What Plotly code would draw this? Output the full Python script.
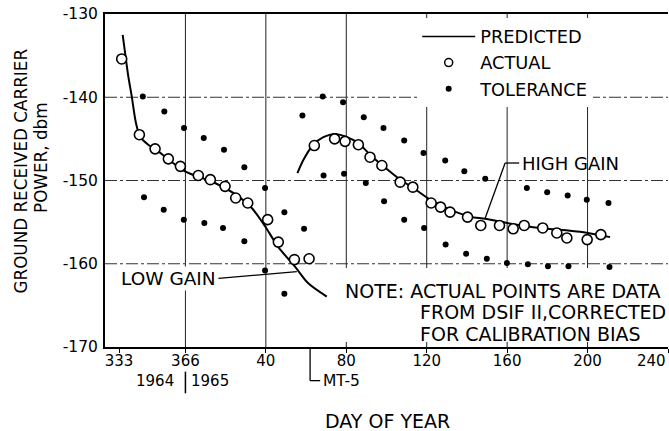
import plotly.graph_objects as go

# ---------------- data (x = day count, 1965 days offset by 366) ----------------
low_actual_x = [334.3, 343.1, 350.9, 357.5, 363.5, 372.4, 378.4, 385.7, 391.0, 397.0, 406.9, 412.2, 420.2, 427.5]
low_actual_y = [-135.4, -144.5, -146.2, -147.4, -148.3, -149.4, -149.9, -150.7, -152.1, -152.7, -154.7, -157.4, -159.5, -159.4]

high_actual_x = [430.1, 440.2, 445.4, 452.0, 457.8, 463.7, 472.8, 479.1, 488.2, 492.9, 497.6, 506.3, 512.9,
                 522.2, 529.0, 534.5, 543.7, 550.7, 555.7, 565.8, 572.6]
high_actual_y = [-145.8, -145.0, -145.3, -145.7, -147.2, -148.2, -150.2, -150.8, -152.7, -153.2, -153.8, -154.4, -155.4,
                 -155.4, -155.8, -155.4, -155.7, -156.3, -156.9, -157.1, -156.5]

low_pred_x = [334.8, 336.0, 337.6, 339.3, 341.4, 343.4, 347.5, 350.9, 365.8, 380.7, 392.3, 399.0, 405.6, 412.2, 420.5, 427.1, 436.3]
low_pred_y = [-132.5, -134.7, -137.5, -139.9, -143.1, -144.7, -145.7, -146.2, -148.9, -150.3, -151.9, -153.3, -155.5, -158.0, -160.35, -162.35, -163.95]

high_pred_x = [421.7, 424.7, 429.6, 434.6, 440.4, 445.4, 452.0, 457.8, 464.5, 472.8, 479.4, 487.7, 497.6, 507.6, 515.1, 525.9, 542.4, 562.3, 577.2]
high_pred_y = [-149.1, -147.5, -145.7, -144.8, -144.4, -144.7, -145.5, -146.9, -148.3, -149.9, -150.9, -152.3, -153.5, -154.35, -154.6, -155.1, -155.7, -156.15, -156.8]

tol_low_upper_x = [344.8, 355.5, 365.3, 375.1, 385.2, 395.3, 405.6, 415.2, 425.0]
tol_low_upper_y = [-139.9, -141.7, -143.7, -144.9, -146.3, -148.4, -150.9, -153.8, -155.8]
tol_low_lower_x = [345.4, 355.2, 365.2, 375.4, 384.7, 395.3, 405.6, 415.2]
tol_low_lower_y = [-152.0, -153.5, -154.7, -155.1, -155.7, -157.3, -160.8, -163.6]
tol_high_upper_x = [424.2, 434.3, 444.4, 454.7, 464.5, 474.8, 484.4, 495.2, 504.7, 515.1, 535.8, 545.9, 556.1, 565.6, 576.4]
tol_high_upper_y = [-142.2, -139.9, -140.6, -142.4, -143.7, -145.2, -146.7, -147.6, -148.9, -149.8, -150.9, -151.4, -151.8, -152.3, -152.7]
tol_high_lower_x = [434.7, 444.9, 455.7, 464.8, 474.8, 484.7, 495.4, 505.6, 515.9, 525.9, 536.3, 546.3, 556.5, 576.9]
tol_high_lower_y = [-149.4, -149.2, -150.3, -152.5, -154.7, -155.7, -157.7, -158.8, -159.4, -159.9, -160.05, -160.3, -160.3, -160.4]

x_tick_vals = [333, 366, 406, 446, 486, 526, 566, 606]
x_tick_text = ["333", "366", "40", "80", "120", "160", "200", ""]
y_tick_vals = [-170, -160, -150, -140, -130]
y_tick_text = ["-170", "-160", "-150", "-140", "-130"]
grid_x = [366, 406, 446, 486, 526, 566]
grid_y = [-140, -150, -160]
year_split = 366
mt5_day = 428

FONT = "DejaVu Sans"
INK = "black"

fig = go.Figure()

# predicted curves
for xs, ys in [(low_pred_x, low_pred_y), (high_pred_x, high_pred_y)]:
    fig.add_trace(go.Scatter(x=xs, y=ys, mode="lines", line=dict(color=INK, width=2, shape="spline", smoothing=0.8),
                             showlegend=False, hoverinfo="skip"))

tol_x = tol_low_upper_x + tol_low_lower_x + tol_high_upper_x + tol_high_lower_x
tol_y = tol_low_upper_y + tol_low_lower_y + tol_high_upper_y + tol_high_lower_y
fig.add_trace(go.Scatter(x=tol_x, y=tol_y, mode="markers", marker=dict(color=INK, size=6), showlegend=False))

fig.add_trace(go.Scatter(x=low_actual_x + high_actual_x, y=low_actual_y + high_actual_y, mode="markers",
                         marker=dict(symbol="circle", color="white", size=10, line=dict(color=INK, width=1.6)),
                         showlegend=False))

# legend-only entries
fig.add_trace(go.Scatter(x=[None], y=[None], mode="lines", line=dict(color=INK, width=1.5), name="PREDICTED"))
fig.add_trace(go.Scatter(x=[None], y=[None], mode="markers", name="ACTUAL",
                         marker=dict(symbol="circle", color="white", size=8, line=dict(color=INK, width=1.5))))
fig.add_trace(go.Scatter(x=[None], y=[None], mode="markers", name="TOLERANCE", marker=dict(color=INK, size=6)))

shapes = []
for g in grid_x:
    shapes.append(dict(type="line", xref="x", yref="y", x0=g, x1=g, y0=-170, y1=-130, layer="below",
                       line=dict(color="#222", width=1)))
for g in grid_y:
    shapes.append(dict(type="line", xref="x", yref="y", x0=326, x1=606, y0=g, y1=g, layer="below",
                       line=dict(color="#333", width=1, dash="12px,3px,3px,3px")))
# white area behind the note
shapes.append(dict(type="rect", xref="x", yref="y", x0=440.4, x1=606, y0=-169.4, y1=-160.5, layer="below",
                   fillcolor="white", line=dict(width=0)))
# leader lines
shapes.append(dict(type="line", xref="x", yref="y", x0=382.4, y0=-161.75, x1=421.4, y1=-160.95,
                   line=dict(color=INK, width=1.3)))
shapes.append(dict(type="line", xref="x", yref="y", x0=525.0, y0=-147.9, x1=515.1, y1=-154.5,
                   line=dict(color=INK, width=1.3)))
shapes.append(dict(type="line", xref="x", yref="y", x0=525.0, y0=-147.9, x1=532.0, y1=-147.9,
                   line=dict(color=INK, width=1.3)))
# year divider and MT-5 bracket (below axis)
shapes.append(dict(type="line", xref="x", yref="paper", x0=year_split, x1=year_split, y0=-0.074, y1=-0.139,
                   line=dict(color=INK, width=1.5)))
shapes.append(dict(type="line", xref="x", yref="paper", x0=mt5_day, x1=mt5_day, y0=-0.006, y1=-0.101,
                   line=dict(color=INK, width=1.3)))
shapes.append(dict(type="line", xref="x", yref="paper", x0=mt5_day, x1=mt5_day + 5, y0=-0.101, y1=-0.101,
                   line=dict(color=INK, width=1.3)))

f = lambda s: dict(family=FONT, size=s, color=INK)
annotations = [
    dict(text="GROUND RECEIVED CARRIER", xref="paper", yref="paper", x=-0.1483, y=0.5285, textangle=-90,
         showarrow=False, font=f(16.8), xanchor="center", yanchor="middle"),
    dict(text="POWER, dbm", xref="paper", yref="paper", x=-0.1137, y=0.5706, textangle=-90,
         showarrow=False, font=f(16.8), xanchor="center", yanchor="middle"),
    dict(text="DAY OF YEAR", xref="paper", yref="paper", x=0.5018, y=-0.222, showarrow=False, font=f(19),
         xanchor="center", yanchor="middle"),
    dict(text="1964", xref="x", yref="paper", x=350.9, y=-0.101, showarrow=False, font=f(15),
         xanchor="center", yanchor="middle"),
    dict(text="1965", xref="x", yref="paper", x=378.2, y=-0.101, showarrow=False, font=f(15),
         xanchor="center", yanchor="middle"),
    dict(text="MT-5", xref="x", yref="paper", x=mt5_day + 5.5, y=-0.101, showarrow=False, font=f(15.5),
         xanchor="left", yanchor="middle"),
    dict(text="240", xref="paper", yref="paper", x=1.0, y=-0.042, showarrow=False, font=f(15),
         xanchor="right", yanchor="middle"),
    dict(text="LOW GAIN", xref="x", yref="y", x=382.0, y=-161.75, showarrow=False, font=f(18.5),
         xanchor="right", yanchor="middle", bgcolor="white"),
    dict(text="HIGH GAIN", xref="x", yref="y", x=532.5, y=-147.9, showarrow=False, font=f(18),
         xanchor="left", yanchor="middle"),
    dict(text="NOTE: ACTUAL POINTS ARE DATA", xref="x", yref="y", x=444.5, y=-163.3, showarrow=False,
         font=f(19), xanchor="left", yanchor="middle"),
    dict(text="FROM DSIF II,CORRECTED", xref="x", yref="y", x=481.8, y=-165.8, showarrow=False,
         font=f(19), xanchor="left", yanchor="middle"),
    dict(text="FOR CALIBRATION BIAS", xref="x", yref="y", x=481.8, y=-168.4, showarrow=False,
         font=f(19), xanchor="left", yanchor="middle"),
]

fig.update_layout(
    width=669, height=431,
    margin=dict(l=105, r=1, t=14, b=84, autoexpand=False),
    paper_bgcolor="white", plot_bgcolor="white",
    font=dict(family=FONT, color=INK),
    shapes=shapes, annotations=annotations,
    showlegend=True,
    legend=dict(x=0.5545, y=0.987, xanchor="left", yanchor="top", bgcolor="white", borderwidth=0,
                font=f(17.8), itemwidth=53, tracegroupgap=0),
    xaxis=dict(range=[326, 606], tickvals=x_tick_vals, ticktext=x_tick_text, showgrid=False, zeroline=False,
               showline=True, linecolor=INK, linewidth=2, mirror=True, ticks="outside", ticklen=4,
               tickcolor=INK, tickfont=f(15), automargin=False, ticklabelstandoff=-5,
               ticklabeloverflow="allow"),
    yaxis=dict(range=[-170, -130], tickvals=y_tick_vals, ticktext=y_tick_text, showgrid=False, zeroline=False,
               showline=True, linecolor=INK, linewidth=2, ticks="", tickfont=f(15.5), ticklabelstandoff=2,
               automargin=False, ticklabeloverflow="allow"),
)

# remove the browser's default 8px page margin so the 669x431 figure fills the window exactly
fig.write_html("out.html", config={"displayModeBar": False},
               post_script="document.body.style.margin='0';document.body.style.overflow='hidden';")
